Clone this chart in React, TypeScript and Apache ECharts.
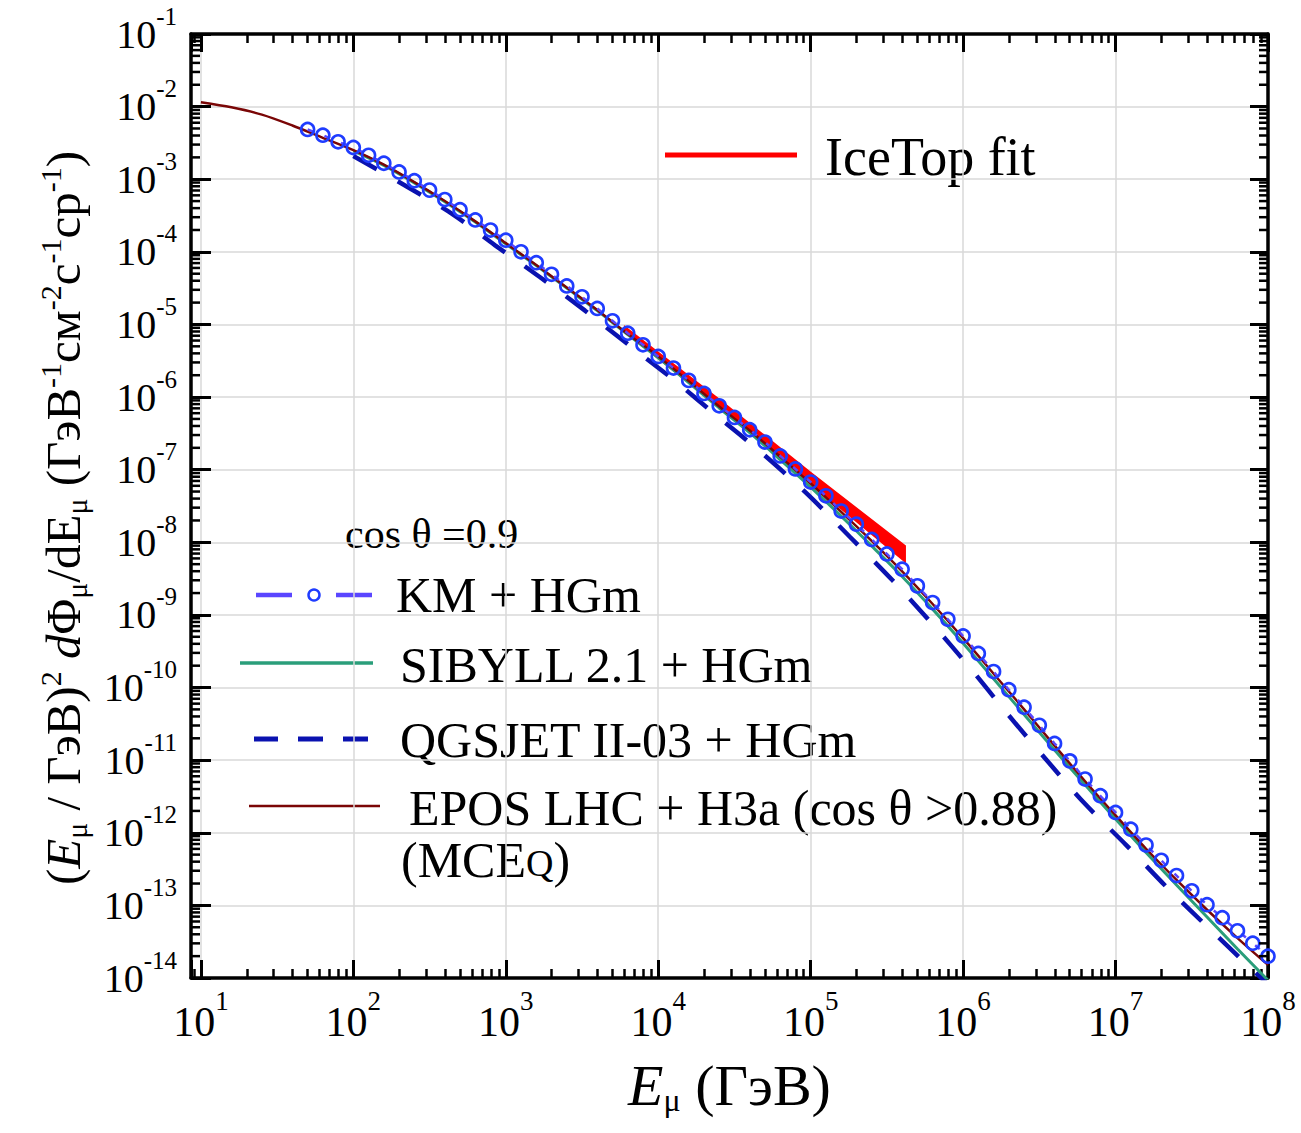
import React, { useEffect, useRef } from 'react';
import * as echarts from 'echarts';

const FONT = 'Liberation Serif';

// axis ranges
const X_MIN = 8.61; // frame starts a little before 10 GeV
const X_MAX = 1e8;
const Y_MIN_EXP = -14;
const Y_MAX_EXP = -1;

// KM + HGm (circles) : log10(E/GeV), log10(flux)
const kmLogE = [1.7, 1.8, 1.9, 2.0, 2.1, 2.2, 2.3, 2.4, 2.5, 2.6, 2.7, 2.8, 2.9, 3.0, 3.1, 3.2, 3.3, 3.4, 3.5, 3.6, 3.7, 3.8, 3.9, 4.0, 4.1, 4.2, 4.3, 4.4, 4.5, 4.6, 4.7, 4.8, 4.9, 5.0, 5.1, 5.2, 5.3, 5.4, 5.5, 5.6, 5.7, 5.8, 5.9, 6.0, 6.1, 6.2, 6.3, 6.4, 6.5, 6.6, 6.7, 6.8, 6.9, 7.0, 7.1, 7.2, 7.3, 7.4, 7.5, 7.6, 7.7, 7.8, 7.9, 8.0];
const kmLogF = [-2.315, -2.393, -2.485, -2.563, -2.67, -2.78, -2.9, -3.02, -3.15, -3.28, -3.42, -3.56, -3.7, -3.84, -4.0, -4.15, -4.31, -4.47, -4.62, -4.78, -4.95, -5.12, -5.28, -5.44, -5.6, -5.77, -5.95, -6.12, -6.28, -6.45, -6.62, -6.81, -6.99, -7.17, -7.36, -7.57, -7.75, -7.96, -8.16, -8.37, -8.6, -8.83, -9.06, -9.29, -9.53, -9.78, -10.03, -10.27, -10.52, -10.77, -11.01, -11.26, -11.49, -11.72, -11.95, -12.17, -12.38, -12.59, -12.8, -12.99, -13.17, -13.35, -13.52, -13.7];

// EPOS LHC + H3a
const eposLogE = [1.0, 1.2, 1.4, 1.6, 1.8, 2.0, 2.2, 2.4, 2.6, 2.8, 3.0, 3.2, 3.4, 3.6, 3.8, 4.0, 4.2, 4.4, 4.6, 4.8, 5.0, 5.2, 5.4, 5.6, 5.8, 6.0, 6.2, 6.4, 6.6, 6.8, 7.0, 7.2, 7.4, 7.6, 7.8, 8.0];
const eposLogF = [-1.94, -2.01, -2.11, -2.26, -2.43, -2.6, -2.8, -3.04, -3.3, -3.58, -3.88, -4.18, -4.49, -4.8, -5.13, -5.44, -5.78, -6.13, -6.46, -6.82, -7.19, -7.58, -7.98, -8.4, -8.85, -9.32, -9.81, -10.3, -10.8, -11.29, -11.76, -12.22, -12.65, -13.06, -13.45, -13.82];

// SIBYLL 2.1 + HGm
const sibyllLogE = [2.0, 2.2, 2.4, 2.6, 2.8, 3.0, 3.2, 3.4, 3.6, 3.8, 4.0, 4.2, 4.4, 4.6, 4.8, 5.0, 5.2, 5.4, 5.6, 5.8, 6.0, 6.2, 6.4, 6.6, 6.8, 7.0, 7.2, 7.4, 7.6, 7.8, 8.0];
const sibyllLogF = [-2.61, -2.81, -3.05, -3.31, -3.59, -3.89, -4.19, -4.5, -4.81, -5.14, -5.46, -5.8, -6.15, -6.49, -6.86, -7.24, -7.64, -8.05, -8.47, -8.92, -9.39, -9.88, -10.37, -10.86, -11.34, -11.81, -12.27, -12.72, -13.16, -13.6, -14.03];

// QGSJET II-03 + HGm
const qgsLogE = [2.0, 2.35, 2.65, 2.93, 3.225, 3.52, 3.805, 4.1, 4.385, 4.68, 4.965, 5.255, 5.54, 5.8, 6.05, 6.29, 6.54, 6.79, 7.07, 7.35, 7.64, 7.92, 8.0];
const qgsLogF = [-2.68, -3.1, -3.48, -3.91, -4.35, -4.81, -5.28, -5.76, -6.26, -6.77, -7.31, -7.92, -8.53, -9.13, -9.74, -10.36, -10.98, -11.58, -12.17, -12.78, -13.37, -13.93, -14.09];

// IceTop fit band
const iceLogE = [3.78, 4.4, 5.0, 5.62];
const iceUpperLogF = [-5.03, -6.03, -7.04, -8.05];
const iceLowerLogF = [-5.1, -6.14, -7.19, -8.27];

// y-axis decades (tick labels 10^n)
const yDecades: number[] = [];
for (let n = Y_MIN_EXP; n <= Y_MAX_EXP; n++) yDecades.push(n);
// y minor tick positions (k * 10^n)
const yMinorTicks: number[] = [];
for (let n = Y_MIN_EXP; n < Y_MAX_EXP; n++) for (let k = 2; k <= 9; k++) yMinorTicks.push(k * Math.pow(10, n));

const toPts = (le: number[], lf: number[]) => le.map((e, i) => [Math.pow(10, e), Math.pow(10, lf[i])]);

const C_KM_CIRCLE = '#1f3cff';
const C_KM_LINE = '#5a46ff';
const C_SIB = '#2a9e7a';
const C_QGS = '#0a12b0';
const C_EPOS = '#7a0606';
const C_ICE = '#ff0000';

const powLabelLog = (v: number) => {
  const l = Math.log10(v);
  const e = Math.round(l);
  if (Math.abs(l - e) > 1e-6) return '';
  return `{b|10}{s|${e}}`;
};
const powLabelExp = (v: number) => `{b|10}{s|${Math.round(v)}}`;

const axisLineStyle = { show: true, onZero: false, lineStyle: { color: '#000', width: 3.5 } };
const tickStyle = { show: true, inside: true, length: 18, lineStyle: { color: '#000', width: 3 } };
const minorTickStyle = { show: true, splitNumber: 9, length: 9, lineStyle: { color: '#000', width: 2.5 } };

const nameRich = {
  p: { fontFamily: FONT, fontSize: 49, color: '#000' },
  i: { fontFamily: FONT, fontSize: 49, fontStyle: 'italic', color: '#000' },
  sub: { fontFamily: FONT, fontSize: 30, color: '#000', padding: [26, 0, 0, 0] },
  sup: { fontFamily: FONT, fontSize: 30, color: '#000', padding: [0, 0, 26, 0] },
};

const option: any = {
  animation: false,
  backgroundColor: '#fff',
  grid: { left: 191, right: 33, top: 34, bottom: 155 },
  xAxis: [
    {
      type: 'log', logBase: 10, min: X_MIN, max: X_MAX, splitNumber: 7, position: 'bottom',
      axisLine: axisLineStyle, axisTick: tickStyle, minorTick: minorTickStyle,
      splitLine: { show: true, lineStyle: { color: '#d9d9d9', width: 1.5 } },
      axisLabel: {
        margin: 9, formatter: powLabelLog,
        rich: {
          b: { fontFamily: FONT, fontSize: 42, color: '#000' },
          s: { fontFamily: FONT, fontSize: 27, color: '#000', padding: [0, 0, 42, 0] },
        },
      },
      name: '{i|E}{sub|μ}{p| (ГэВ)}', nameLocation: 'middle', nameGap: 76,
      nameTextStyle: {
        rich: {
          ...nameRich,
          p: { ...nameRich.p, fontSize: 58 },
          i: { ...nameRich.i, fontSize: 58 },
          sub: { ...nameRich.sub, fontSize: 32, padding: [30, 0, 0, 0] },
        },
      },
    },
    {
      type: 'log', logBase: 10, min: X_MIN, max: X_MAX, splitNumber: 7, position: 'top',
      axisLine: axisLineStyle, axisTick: tickStyle, minorTick: minorTickStyle,
      splitLine: { show: false }, axisLabel: { show: false },
    },
  ],
  yAxis: [
    {
      // data axis (logarithmic), drawn through the decade axes below
      type: 'log', logBase: 10, min: Math.pow(10, Y_MIN_EXP), max: Math.pow(10, Y_MAX_EXP), position: 'left', show: false,
    },
    {
      type: 'value', min: Y_MIN_EXP, max: Y_MAX_EXP, interval: 1, position: 'left',
      axisLine: axisLineStyle, axisTick: { ...tickStyle, length: 20 },
      splitLine: { show: true, lineStyle: { color: '#d9d9d9', width: 1.5 } },
      axisLabel: {
        margin: 14, formatter: powLabelExp,
        rich: {
          b: { fontFamily: FONT, fontSize: 40, color: '#000' },
          s: { fontFamily: FONT, fontSize: 25, color: '#000', padding: [0, 0, 36, 0] },
        },
      },
      name: '{p|(}{i|E}{sub|μ}{p| / ГэВ)}{sup|2}{p| }{i|d}{p|Φ}{sub|μ}{p|/dE}{sub|μ}{p| (ГэВ}{sup|-1}{p|см}{sup|-2}{p|с}{sup|-1}{p|ср}{sup|-1}{p|)}',
      nameLocation: 'middle', nameRotate: 90, nameGap: 100,
      nameTextStyle: { rich: nameRich, padding: [0, 24, 0, 0] },
    },
    {
      type: 'value', min: Y_MIN_EXP, max: Y_MAX_EXP, interval: 1, position: 'right',
      axisLine: axisLineStyle, axisTick: tickStyle,
      splitLine: { show: false }, axisLabel: { show: false },
    },
  ],
  series: [
    {
      name: 'y minor ticks', type: 'custom', xAxisIndex: 0, yAxisIndex: 0, silent: true, z: 5,
      data: yMinorTicks.map((v) => [10, v]),
      renderItem: (params: any, api: any) => {
        const cs = params.coordSys;
        const y = api.coord([api.value(0), api.value(1)])[1];
        const st = { stroke: '#000', lineWidth: 2.5 };
        return {
          type: 'group',
          children: [
            { type: 'line', shape: { x1: cs.x, y1: y, x2: cs.x + 9, y2: y }, style: st },
            { type: 'line', shape: { x1: cs.x + cs.width, y1: y, x2: cs.x + cs.width - 9, y2: y }, style: st },
          ],
        };
      },
    },
    {
      name: 'IceTop fit', type: 'custom', xAxisIndex: 0, yAxisIndex: 0,
      data: [[Math.pow(10, iceLogE[0]), Math.pow(10, iceUpperLogF[0])]],
      renderItem: (_params: any, api: any) => {
        const pts: number[][] = [];
        iceLogE.forEach((e, i) => pts.push(api.coord([Math.pow(10, e), Math.pow(10, iceUpperLogF[i])])));
        for (let i = iceLogE.length - 1; i >= 0; i--) pts.push(api.coord([Math.pow(10, iceLogE[i]), Math.pow(10, iceLowerLogF[i])]));
        return { type: 'polygon', shape: { points: pts }, style: { fill: C_ICE, stroke: C_ICE, lineWidth: 1.5 } };
      },
    },
    {
      name: 'QGSJET II-03 + HGm', type: 'line', xAxisIndex: 0, yAxisIndex: 0, data: toPts(qgsLogE, qgsLogF), showSymbol: false, smooth: 0.3,
      lineStyle: { color: C_QGS, width: 4.5, type: [27, 24] },
    },
    {
      name: 'SIBYLL 2.1 + HGm', type: 'line', xAxisIndex: 0, yAxisIndex: 0, data: toPts(sibyllLogE, sibyllLogF), showSymbol: false, smooth: 0.3,
      lineStyle: { color: C_SIB, width: 3 },
    },
    {
      name: 'EPOS LHC + H3a', type: 'line', xAxisIndex: 0, yAxisIndex: 0, data: toPts(eposLogE, eposLogF), showSymbol: false, smooth: 0.3,
      lineStyle: { color: C_EPOS, width: 2.5 },
    },
    {
      name: 'KM + HGm', type: 'line', xAxisIndex: 0, yAxisIndex: 0, data: toPts(kmLogE, kmLogF), symbol: 'circle', symbolSize: 13,
      itemStyle: { color: 'rgba(0,0,0,0)', borderColor: C_KM_CIRCLE, borderWidth: 2.6 },
      lineStyle: { color: C_KM_LINE, width: 2.5, type: [6, 12] },
    },
  ],
  graphic: [
    { type: 'line', silent: true, shape: { x1: 665, y1: 155, x2: 797, y2: 155 }, style: { stroke: C_ICE, lineWidth: 5 } },
    { type: 'text', silent: true, x: 825, y: 157, style: { text: 'IceTop fit', fontFamily: FONT, fontSize: 54, fill: '#000', verticalAlign: 'middle', textVerticalAlign: 'middle' } },
    { type: 'text', silent: true, x: 345, y: 534, style: { text: 'cos θ =0.9', fontFamily: FONT, fontSize: 42, fill: '#000', verticalAlign: 'middle', textVerticalAlign: 'middle' } },
    { type: 'line', silent: true, shape: { x1: 256, y1: 595, x2: 292, y2: 595 }, style: { stroke: C_KM_LINE, lineWidth: 4.5 } },
    { type: 'circle', silent: true, shape: { cx: 314, cy: 595, r: 5.5 }, style: { fill: 'none', stroke: C_KM_CIRCLE, lineWidth: 2.5 } },
    { type: 'line', silent: true, shape: { x1: 336, y1: 595, x2: 372, y2: 595 }, style: { stroke: C_KM_LINE, lineWidth: 4.5 } },
    { type: 'text', silent: true, x: 396, y: 595, style: { text: 'KM + HGm', fontFamily: FONT, fontSize: 50, fill: '#000', verticalAlign: 'middle', textVerticalAlign: 'middle' } },
    { type: 'line', silent: true, shape: { x1: 240, y1: 663, x2: 373, y2: 663 }, style: { stroke: C_SIB, lineWidth: 3.5 } },
    { type: 'text', silent: true, x: 400, y: 665, style: { text: 'SIBYLL 2.1 + HGm', fontFamily: FONT, fontSize: 50, fill: '#000', verticalAlign: 'middle', textVerticalAlign: 'middle' } },
    { type: 'line', silent: true, shape: { x1: 254, y1: 739, x2: 278, y2: 739 }, style: { stroke: C_QGS, lineWidth: 5 } },
    { type: 'line', silent: true, shape: { x1: 298, y1: 739, x2: 323, y2: 739 }, style: { stroke: C_QGS, lineWidth: 5 } },
    { type: 'line', silent: true, shape: { x1: 343, y1: 739, x2: 368, y2: 739 }, style: { stroke: C_QGS, lineWidth: 5 } },
    { type: 'text', silent: true, x: 400, y: 740, style: { text: 'QGSJET II-03 + HGm', fontFamily: FONT, fontSize: 50, fill: '#000', verticalAlign: 'middle', textVerticalAlign: 'middle' } },
    { type: 'line', silent: true, shape: { x1: 249, y1: 806, x2: 380, y2: 806 }, style: { stroke: C_EPOS, lineWidth: 2.5 } },
    { type: 'text', silent: true, x: 409, y: 808, style: { text: 'EPOS LHC + H3a (cos θ >0.88)', fontFamily: FONT, fontSize: 50, fill: '#000', verticalAlign: 'middle', textVerticalAlign: 'middle' } },
    {
      type: 'text', silent: true, x: 401, y: 860,
      style: {
        text: '{a|(MCE}{q|Q}{a|)}', fontFamily: FONT, fontSize: 50, fill: '#000', verticalAlign: 'middle', textVerticalAlign: 'middle',
        rich: {
          a: { fontFamily: FONT, fontSize: 50, color: '#000', verticalAlign: 'bottom' },
          q: { fontFamily: FONT, fontSize: 38, color: '#000', verticalAlign: 'bottom', padding: [0, 0, 3, 0] },
        },
      },
    },
  ],
};

export default function App() {
  const ref = useRef<HTMLDivElement>(null);
  useEffect(() => {
    if (!ref.current) return;
    const chart = echarts.init(ref.current, null, { renderer: 'svg' });
    chart.setOption(option);
    return () => chart.dispose();
  }, []);
  return (
    <div
      ref={ref}
      style={{ position: 'absolute', left: 0, top: 0, width: 1301, height: 1133, background: '#fff' }}
    />
  );
}
